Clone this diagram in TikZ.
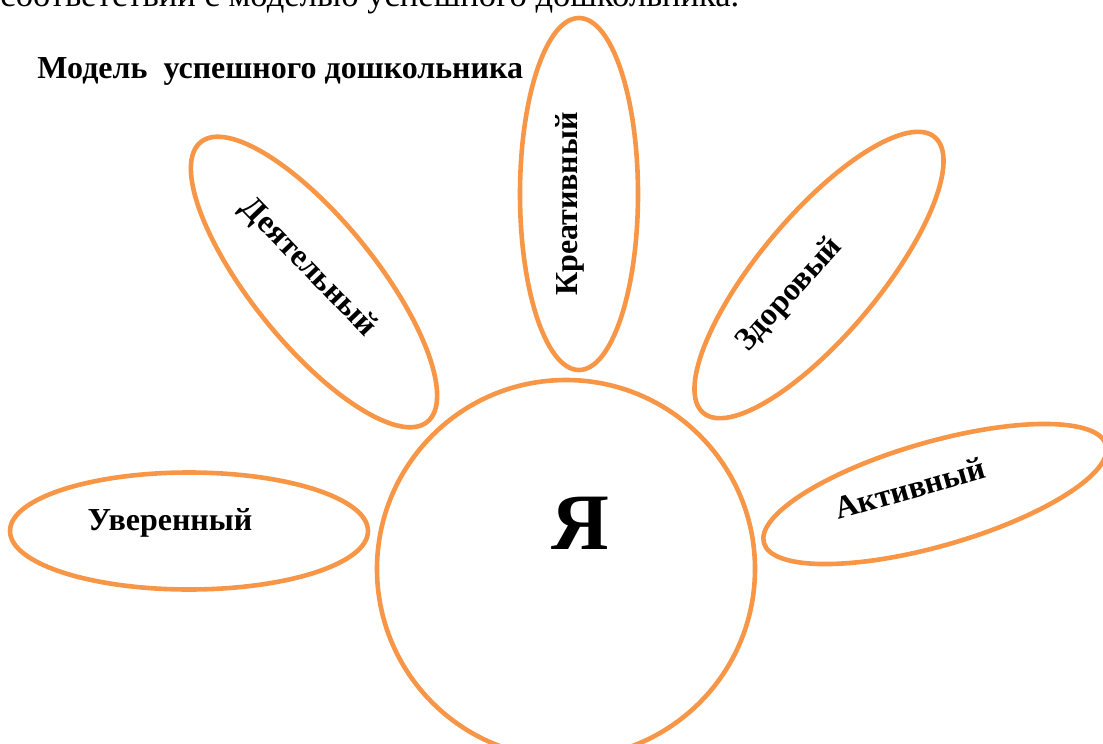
\documentclass[tikz,border=0pt]{standalone}
\usepackage{fontspec}
\setmainfont{Liberation Serif}
\usetikzlibrary{shapes.geometric}
\definecolor{petalOrange}{HTML}{F79646}

\begin{document}
\begin{tikzpicture}[x=0.5pt,y=-0.5pt,
    petal/.style={draw=petalOrange,line width=2.3pt,ellipse,inner sep=0pt},
    trait/.style={font=\bfseries\fontsize{16}{19}\selectfont,inner sep=0pt}]
  \useasboundingbox (0,0) rectangle (1103,744);
  % heading
  \node[anchor=base west,inner sep=0pt,font=\fontsize{17.3}{20}\selectfont] (intro) at (0,6) {соответствии с моделью успешного дошкольника.};
  \node[anchor=base west,trait] (title) at (37,78) {Модель\ \ успешного дошкольника};
  % centre
  \node[draw=petalOrange,line width=2.3pt,circle,minimum size=189pt,inner sep=0pt] (me) at (566,569) {};
  \node[font=\bfseries\fontsize{40}{44}\selectfont,inner sep=0pt] (meText) at (580,523) {Я};
  % petals
  \node[petal,minimum width=179pt,minimum height=58.5pt] (sure) at (189,531) {};
  \node[petal,minimum width=180pt,minimum height=62pt,rotate=-51] (busy) at (314,282) {};
  \node[petal,minimum width=176pt,minimum height=59pt,rotate=90] (creative) at (579,194) {};
  \node[petal,minimum width=180pt,minimum height=60pt,rotate=50] (healthy) at (819,275) {};
  \node[petal,minimum width=178pt,minimum height=52pt,rotate=16] (active) at (935,494) {};
  % labels
  \node[trait] (sureText) at (170,523) {Уверенный};
  \node[trait,rotate=-46] (busyText) at (308,268) {Деятельный};
  \node[trait,rotate=90] (creativeText) at (570,204) {Креативный};
  \node[trait,rotate=48] (healthyText) at (790,295) {Здоровый};
  \node[trait,rotate=16] (activeText) at (910,488) {Активный};
\end{tikzpicture}
\end{document}
